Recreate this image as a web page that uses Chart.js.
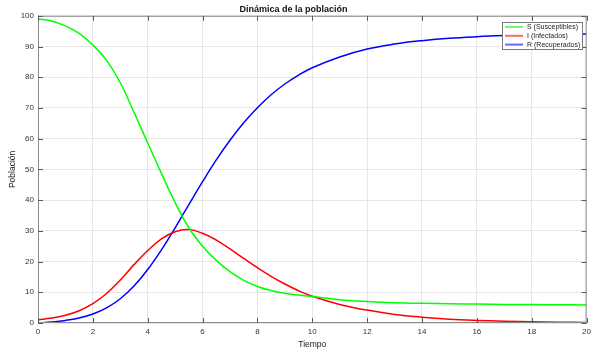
<!DOCTYPE html>
<html>
<head>
<meta charset="utf-8">
<script src="https://cdn.jsdelivr.net/npm/chart.js@4"></script>
<style>
  html, body { margin: 0; padding: 0; background: #fff; }
  #wrap { width: 595px; height: 350px; }
</style>
</head>
<body>
<div id="wrap"><canvas id="chart"></canvas></div>
<script>
const tiempo = [0, 0.5, 1, 1.5, 2, 2.5, 3, 3.5, 4, 4.5, 5, 5.5, 6, 6.5, 7, 7.5, 8, 8.5, 9, 9.5, 10,
  11, 12, 13, 14, 15, 16, 17, 18, 19, 20];
const susceptibles = [99, 98.3, 96.7, 94.3, 90.5, 85.5, 78.2, 68.6, 58.6, 48.7, 39.2, 31.0, 25.0, 20.4, 16.7, 13.9, 11.9, 10.6, 9.7, 9.1, 8.6,
  7.6, 7.0, 6.6, 6.4, 6.25, 6.15, 6.05, 6.0, 5.95, 5.9];
const infectados = [1, 1.6, 2.5, 4.0, 6.3, 9.6, 14.0, 19.0, 23.6, 27.4, 29.7, 30.4, 29.2, 27.0, 24.1, 21.0, 18.0, 15.2, 12.7, 10.5, 8.7,
  6.05, 4.2, 2.8, 1.9, 1.25, 0.85, 0.58, 0.4, 0.27, 0.18];
const recuperados = [0, 0.33, 0.84, 1.65, 2.94, 4.94, 7.9, 12.05, 17.4, 23.8, 31.0, 38.55, 46.0, 53.1, 59.5, 65.2, 70.1, 74.3, 77.8, 80.7, 83.1,
  86.6, 89.2, 90.8, 91.9, 92.7, 93.2, 93.55, 93.8, 93.95, 94.05];
const xTicks = [0, 2, 4, 6, 8, 10, 12, 14, 16, 18, 20];
const yTicks = [0, 10, 20, 30, 40, 50, 60, 70, 80, 90, 100];

const pts = arr => tiempo.map((t, i) => ({ x: t, y: arr[i] }));
const FONT = "'Liberation Sans', Arial, sans-serif";

// matlab style box with inward ticks + boxed legend on top of the lines
const boxPlugin = {
  id: 'box',
  afterDatasetsDraw(chart) {
    const { ctx, chartArea: a, scales } = chart;
    ctx.save();
    ctx.strokeStyle = '#8c8c8c';
    ctx.lineWidth = 1;
    ctx.strokeRect(a.left + 0.5, a.top + 0.5, a.right - a.left - 1, a.bottom - a.top - 1);
    ctx.strokeStyle = '#5a5a5a';
    ctx.beginPath();
    xTicks.forEach(v => {
      const x = Math.round(scales.x.getPixelForValue(v)) + 0.5;
      ctx.moveTo(x, a.bottom); ctx.lineTo(x, a.bottom - 5);
      ctx.moveTo(x, a.top); ctx.lineTo(x, a.top + 5);
    });
    yTicks.forEach(v => {
      const y = Math.round(scales.y.getPixelForValue(v)) + 0.5;
      ctx.moveTo(a.left, y); ctx.lineTo(a.left + 5, y);
      ctx.moveTo(a.right, y); ctx.lineTo(a.right - 5, y);
    });
    ctx.stroke();

    // legend
    const lx = 502, ly = 22, lw = 80, lh = 27;
    ctx.fillStyle = '#fff';
    ctx.fillRect(lx, ly, lw, lh);
    ctx.strokeStyle = '#7a7a7a';
    ctx.strokeRect(lx + 0.5, ly + 0.5, lw, lh);
    ctx.font = '7px ' + FONT;
    ctx.textBaseline = 'middle';
    chart.data.datasets.forEach((ds, i) => {
      const y = ly + 5 + i * 8.8;
      ctx.strokeStyle = ds.borderColor;
      ctx.globalAlpha = 0.6;
      ctx.lineWidth = 2;
      ctx.beginPath(); ctx.moveTo(lx + 3, y); ctx.lineTo(lx + 21, y); ctx.stroke();
      ctx.globalAlpha = 1;
      ctx.fillStyle = '#222';
      ctx.fillText(ds.label, lx + 25, y);
    });
    ctx.restore();
  }
};

new Chart(document.getElementById('chart'), {
  type: 'line',
  data: {
    datasets: [
      { label: 'S (Susceptibles)', data: pts(susceptibles), borderColor: '#00ff00' },
      { label: 'I (Infectados)', data: pts(infectados), borderColor: '#ff0000' },
      { label: 'R (Recuperados)', data: pts(recuperados), borderColor: '#0000ff' }
    ]
  },
  options: {
    responsive: true,
    maintainAspectRatio: false,
    animation: false,
    layout: { padding: { right: 8, left: 0, top: 0, bottom: 0 } },
    elements: {
      point: { radius: 0 },
      line: { borderWidth: 1.5, tension: 0.4, fill: false }
    },
    plugins: {
      legend: { display: false },
      tooltip: { enabled: false },
      title: {
        display: true,
        text: 'Dinámica de la población',
        color: '#111',
        font: { family: FONT, size: 9, weight: 'bold' },
        padding: { top: 4, bottom: 1 }
      }
    },
    scales: {
      x: {
        type: 'linear',
        min: 0, max: 20,
        afterBuildTicks: s => { s.ticks = xTicks.map(v => ({ value: v })); },
        afterFit: s => { s.height = 27; },
        grid: { color: '#e6e6e6', drawTicks: false },
        border: { display: false },
        ticks: { color: '#333', font: { family: FONT, size: 8 }, padding: 4, maxRotation: 0 },
        title: { display: true, text: 'Tiempo', color: '#222', font: { family: FONT, size: 8.5 }, padding: { top: 0, bottom: 0 } }
      },
      y: {
        min: 0, max: 100,
        afterBuildTicks: s => { s.ticks = yTicks.map(v => ({ value: v })); },
        afterFit: s => { s.width = 38; },
        grid: { color: '#e6e6e6', drawTicks: false },
        border: { display: false },
        ticks: { color: '#333', font: { family: FONT, size: 8 }, padding: 4 },
        title: { display: true, text: 'Población', color: '#222', font: { family: FONT, size: 8.5 }, padding: { top: 8, bottom: 0 } }
      }
    }
  },
  plugins: [boxPlugin]
});
</script>
</body>
</html>
